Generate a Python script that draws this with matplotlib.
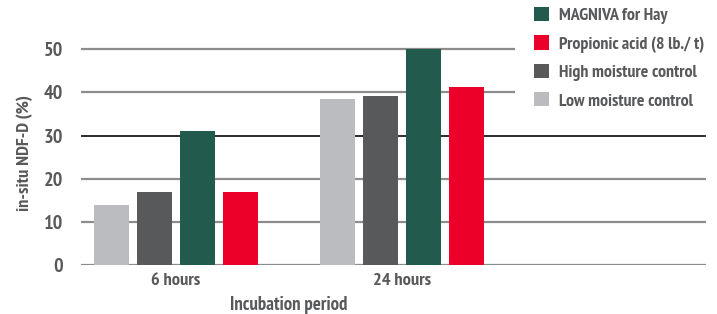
import matplotlib
matplotlib.use("Agg")
import matplotlib.pyplot as plt
import numpy as np
from matplotlib.transforms import blended_transform_factory

# ---- data ----
categories = ["6 hours", "24 hours"]
series_names = ["Low moisture control", "High moisture control", "MAGNIVA for Hay", "Propionic acid (8 lb./ t)"]
low_moisture = [14, 38.4]
high_moisture = [17, 39.2]
magniva = [31, 50]
propionic = [17, 41.3]
y_ticks = [0, 10, 20, 30, 40, 50]

colors = ["#BBBCC0", "#58595B", "#225A4D", "#EC0029"]
text_color = "#58595B"

plt.rcParams['font.family'] = ['PT Sans Narrow', 'DejaVu Sans']
plt.rcParams['font.stretch'] = 'condensed'
plt.rcParams['font.weight'] = 'bold'
FS = 13.2

W, H = 717, 314
fig = plt.figure(figsize=(W / 100, H / 100), dpi=100)

# axes geometry in pixels
ax_left, ax_right = 81, 706
y0_px, y50_px = 265, 49.3
px_per_unit = (y0_px - y50_px) / 50
ytop = 52
ax_top = y0_px - ytop * px_per_unit
ax = fig.add_axes([ax_left / W, 1 - y0_px / H, (ax_right - ax_left) / W, (y0_px - ax_top) / H])

x = np.arange(len(categories))
width = 0.155
spacing = 0.19
offsets = (np.arange(4) - 1.5) * spacing
all_series = [low_moisture, high_moisture, magniva, propionic]
handles = []
for off, vals, c, name in zip(offsets, all_series, colors, series_names):
    b = ax.bar(x + off, vals, width, color=c, label=name, zorder=3, clip_on=False)
    handles.append(b)

ax.set_ylim(0, ytop)
ax.set_xlim((ax_left - 176) / 226, (ax_right - 176) / 226)
ax.set_yticks(y_ticks)
ax.set_yticklabels([str(t) for t in y_ticks])
ax.set_xticks(x)
ax.set_xticklabels(categories)
ax.tick_params(axis='both', length=0, labelcolor=text_color)
ax.tick_params(axis='y', pad=13, labelsize=14.5)
ax.tick_params(axis='x', pad=6, labelsize=FS)
for s in ax.spines.values():
    s.set_visible(False)
ax.set_axisbelow(True)
ax.yaxis.grid(True, color='#8c8c8c', lw=1.6)
gl = ax.get_ygridlines()
gl[3].set_color('#1a1a1a')
gl[3].set_linewidth(1.3)

# x label centered between groups
trans = blended_transform_factory(ax.transData, ax.transAxes)
ax.text(0.5, -0.138, "Incubation period", transform=trans, ha='center', va='top',
        fontsize=13.5, color=text_color, fontweight='bold')

fig.text(25 / W, 1 - 153 / H, "in-situ NDF-D (%)", rotation=90, ha='center', va='center',
         fontsize=FS, color=text_color, fontweight='bold')

order = [2, 3, 1, 0]
LFS = 12.9
leg = fig.legend([handles[i] for i in order], [series_names[i] for i in order],
                 loc='upper left', bbox_to_anchor=(515 / W, 1 + 12 / H),
                 frameon=True, facecolor='white', edgecolor='none', framealpha=1,
                 fancybox=False, borderpad=1.05, handlelength=0.85, handleheight=0.85,
                 handletextpad=0.55, labelspacing=0.62, fontsize=LFS, borderaxespad=0)
for t in leg.get_texts():
    t.set_color(text_color)
    t.set_fontweight('bold')

fig.savefig("out.png", dpi=100)
